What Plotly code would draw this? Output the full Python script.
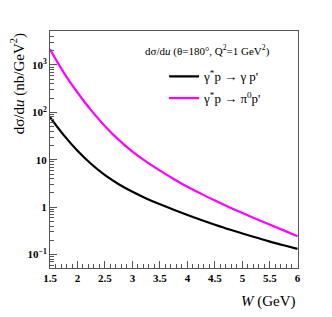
import plotly.graph_objects as go

W = [1.5, 1.75, 2.0, 2.25, 2.5, 2.75, 3.0, 3.25, 3.5, 3.75, 4.0,
     4.25, 4.5, 4.75, 5.0, 5.25, 5.5, 5.75, 6.0]
dcs_gamma = [79.4, 33.1, 15.5, 8.13, 4.73, 3.05, 2.11, 1.53, 1.148, 0.881, 0.684,
             0.537, 0.427, 0.343, 0.279, 0.229, 0.188, 0.157, 0.132]
dcs_pi0 = [2138, 692, 263, 110, 51.3, 26.3, 14.8, 9.12, 5.89, 3.94, 2.69,
           1.91, 1.38, 1.01, 0.750, 0.562, 0.427, 0.324, 0.245]

x_tickvals = [1.5, 2, 2.5, 3, 3.5, 4, 4.5, 5, 5.5, 6]
x_ticktext = ["1.5", "2", "2.5", "3", "3.5", "4", "4.5", "5", "5.5", "6"]
y_tickvals = [0.1, 1, 10, 100, 1000]
y_ticktext = ["10<sup>\u22121</sup>", "1", "10", "10<sup>2</sup>", "10<sup>3</sup>"]

x_minor = [round(1.5 + 0.1 * i, 2) for i in range(46)]
y_minor = []
for e in range(-2, 4):
    for m in range(1, 10):
        y_minor.append(m * 10 ** e)

serif = "Liberation Serif, Times New Roman, serif"

fig = go.Figure()
fig.add_trace(go.Scatter(x=W, y=dcs_gamma, mode="lines", line=dict(color="black", width=2.2, shape="spline"),
                         name="\u03b3<sup>*</sup>p \u2192 \u03b3 p'", legendgroup="a"))
fig.add_trace(go.Scatter(x=W, y=dcs_pi0, mode="lines", line=dict(color="#ff00ff", width=2.2, shape="spline"),
                         name="\u03b3<sup>*</sup>p \u2192 \u03c0<sup>0</sup>p'", legendgroup="b"))

axis_common = dict(showgrid=False, zeroline=False, showline=True, linecolor="#555", linewidth=1,
                   mirror=True, ticks="inside", ticklen=7, tickcolor="#555",
                   tickfont=dict(family=serif, size=11, color="black", weight="bold"))

fig.update_xaxes(range=[1.5, 6.01], tickmode="array", tickvals=x_tickvals, ticktext=x_ticktext,
                 minor=dict(ticks="inside", ticklen=4, tickcolor="#555", tickmode="array", tickvals=x_minor),
                 **axis_common)
fig.update_yaxes(type="log", range=[-1.283, 3.717], tickmode="array", tickvals=y_tickvals, ticktext=y_ticktext,
                 minor=dict(ticks="inside", ticklen=4, tickcolor="#555", tickmode="array", tickvals=y_minor),
                 **axis_common)

fig.update_layout(
    width=332, height=317,
    margin=dict(l=50, r=34, t=31, b=49),
    paper_bgcolor="white", plot_bgcolor="white",
    showlegend=True,
    legend=dict(x=0.46, y=0.872, xanchor="left", yanchor="top", bgcolor="rgba(0,0,0,0)",
                font=dict(family=serif, size=13, color="black"), tracegroupgap=2, itemwidth=30),
    annotations=[
        dict(text="d\u03c3/d<i>u</i> (\u03b8=180\u00b0, Q<sup>2</sup>=1 GeV<sup>2</sup>)",
             xref="paper", yref="paper", x=0.375, y=0.917, xanchor="left", yanchor="middle",
             showarrow=False, font=dict(family=serif, size=11, color="black")),
        dict(text="d\u03c3/d<i>u</i> (nb/GeV<sup>2</sup>)", textangle=-90,
             xref="paper", yref="paper", x=-0.13, y=1.0, xanchor="center", yanchor="top",
             showarrow=False, font=dict(family=serif, size=15, color="black")),
        dict(text="<i>W</i> (GeV)",
             xref="paper", yref="paper", x=1.0, y=-0.095, xanchor="right", yanchor="top",
             showarrow=False, font=dict(family=serif, size=15, color="black")),
    ],
)

fig.write_html("out.html", config={"displayModeBar": False},
               post_script="document.body.style.margin='0';")
